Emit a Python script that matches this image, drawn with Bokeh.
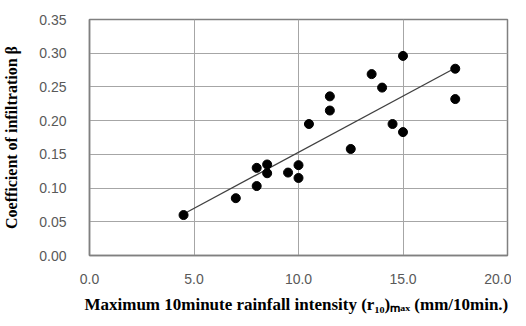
import numpy as np
from bokeh.plotting import figure
from bokeh.models import Range1d, FixedTicker, NumeralTickFormatter, ColumnDataSource
from bokeh.embed import file_html
from bokeh.resources import INLINE

# Data
intensity = [4.5, 7.0, 8.0, 8.0, 8.5, 8.5, 9.5, 10.0, 10.0, 10.5, 11.5, 11.5,
             12.5, 13.5, 14.0, 14.5, 15.0, 15.0, 17.5, 17.5]
beta = [0.060, 0.085, 0.103, 0.130, 0.135, 0.122, 0.123, 0.134, 0.115, 0.195,
        0.236, 0.215, 0.158, 0.269, 0.249, 0.195, 0.296, 0.183, 0.277, 0.232]
x_ticks = [0, 5, 10, 15, 20]
y_ticks = [0.0, 0.05, 0.10, 0.15, 0.20, 0.25, 0.30, 0.35]

p = figure(frame_width=418, frame_height=236, output_backend="svg", toolbar_location=None,
           x_range=Range1d(0, 20), y_range=Range1d(0, 0.35),
           min_border_left=88, min_border_right=4, min_border_top=19,
           min_border_bottom=55)
p.background_fill_color = "white"
p.border_fill_color = "white"
p.outline_line_color = "#808080"
p.outline_line_width = 1.5

# grid
p.xgrid.ticker = FixedTicker(ticks=x_ticks)
p.ygrid.ticker = FixedTicker(ticks=y_ticks)
for g in (p.xgrid, p.ygrid):
    g.grid_line_color = "#a6a6a6"
    g.grid_line_width = 1

# axes
p.xaxis.ticker = FixedTicker(ticks=x_ticks)
p.yaxis.ticker = FixedTicker(ticks=y_ticks)
p.xaxis.formatter = NumeralTickFormatter(format="0.0")
p.yaxis.formatter = NumeralTickFormatter(format="0.00")
for ax in (p.xaxis, p.yaxis):
    ax.axis_line_color = "#808080"
    ax.axis_line_width = 1.5
    ax.major_tick_line_color = None
    ax.minor_tick_line_color = None
    ax.major_label_text_font = "Liberation Sans"
    ax.major_label_text_font_size = "14px"
    ax.major_label_text_color = "#595959"
    ax.axis_label_text_font = "Liberation Serif"
    ax.axis_label_text_font_style = "bold"
    ax.axis_label_text_color = "#000000"
p.yaxis.major_label_standoff = 17
p.xaxis.major_label_standoff = 12
p.yaxis.axis_label = "Coefficient of infiltration \u03b2"
p.yaxis.axis_label_text_font_size = "16px"
p.yaxis.axis_label_standoff = 16
p.xaxis.axis_label = "Maximum 10minute rainfall intensity (r\u2081\u2080)\u2098\u2090\u2093  (mm/10min.)"
p.xaxis.axis_label_text_font_size = "17px"
p.xaxis.axis_label_standoff = 8

# regression line
xs = np.array(intensity)
ys = np.array(beta)
k, b = np.polyfit(xs, ys, 1)
fx = [xs.min(), xs.max()]
fy = [k * v + b for v in fx]
p.line(fx, fy, line_color="#404040", line_width=1.3)

src = ColumnDataSource(dict(x=intensity, y=beta))
p.scatter("x", "y", source=src, size=9, fill_color="black", line_color="black")

open("out.html", "w").write(file_html(p, INLINE))
